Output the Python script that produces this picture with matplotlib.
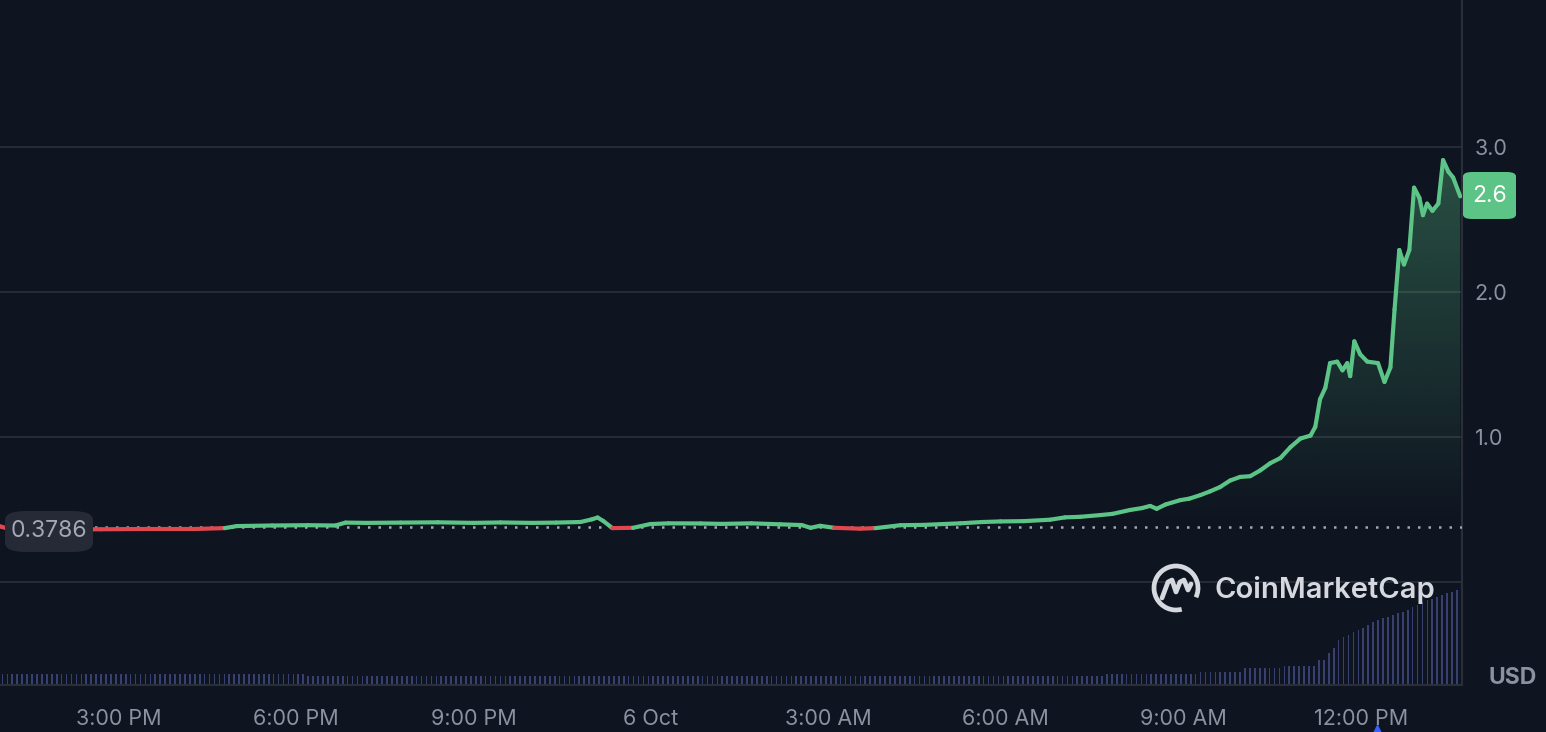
import numpy as np
import matplotlib.pyplot as plt
from matplotlib.collections import LineCollection
from matplotlib.patches import FancyBboxPatch, Arc, Polygon
from matplotlib.transforms import blended_transform_factory

plt.rcParams['font.family'] = ['Inter', 'DejaVu Sans']

# --- data: hours since 1:00 PM, 5 Oct ---
hours = [0.00, 0.10, 0.50, 1.00, 1.70, 2.50, 3.30, 3.80, 4.00, 4.60, 5.20, 5.67,
         5.84, 6.20, 6.77, 7.40, 8.00, 8.46, 9.00, 9.40, 9.81, 10.00, 10.10, 10.20,
         10.35, 10.70, 10.99, 11.30, 11.84, 12.20, 12.70, 13.19, 13.55, 13.70, 13.86,
         14.10, 14.54, 14.80, 15.22, 15.60, 16.23, 16.60, 16.91, 17.30, 17.75, 18.00,
         18.26, 18.60, 18.80, 19.10, 19.30, 19.44, 19.55, 19.70, 19.95, 20.10, 20.29,
         20.45, 20.62, 20.79, 20.96, 21.13, 21.30, 21.47, 21.64, 21.81, 21.98, 22.15,
         22.23, 22.31, 22.40, 22.48, 22.60, 22.69, 22.77, 22.82, 22.89, 22.99, 23.11,
         23.29, 23.40, 23.50, 23.57, 23.65, 23.73, 23.82, 23.90, 23.99, 24.05, 24.12,
         24.21, 24.31, 24.39, 24.48, 24.56, 24.68]
price = [0.385, 0.372, 0.360, 0.362, 0.364, 0.366, 0.366, 0.372, 0.386, 0.390, 0.392, 0.390,
         0.410, 0.408, 0.410, 0.412, 0.408, 0.411, 0.408, 0.410, 0.414, 0.432, 0.445, 0.420,
         0.372, 0.374, 0.400, 0.405, 0.404, 0.401, 0.405, 0.398, 0.393, 0.374, 0.388,
         0.374, 0.368, 0.372, 0.392, 0.394, 0.405, 0.414, 0.418, 0.420, 0.430, 0.446,
         0.450, 0.462, 0.470, 0.497, 0.510, 0.525, 0.505, 0.535, 0.565, 0.575, 0.600,
         0.625, 0.655, 0.700, 0.725, 0.730, 0.770, 0.820, 0.855, 0.930, 0.990, 1.010,
         1.070, 1.260, 1.340, 1.510, 1.520, 1.460, 1.510, 1.420, 1.660, 1.570, 1.520,
         1.510, 1.380, 1.480, 1.880, 2.290, 2.190, 2.290, 2.720, 2.650, 2.530, 2.610,
         2.560, 2.610, 2.910, 2.830, 2.790, 2.660]
open_price = 0.3786
last_label = "2.6"

# 5-minute volume bars (relative units)
volume = ([11] * 62 + [9] * 162 + [11] * 19 + [13] * 9 + [17] * 8 + [19] * 7 + [25] +
          [25, 32, 37, 45, 48, 50, 53, 55, 57, 60, 63, 65, 67, 68, 70, 72, 73, 75, 78,
           80, 83, 85, 86, 88, 90, 92, 93, 95, 97])
bar_step = 1 / 12

tick_hours = [2, 5, 8, 11, 14, 17, 20, 23]
tick_labels = ["3:00 PM", "6:00 PM", "9:00 PM", "6 Oct", "3:00 AM", "6:00 AM", "9:00 AM", "12:00 PM"]
y_ticks = [1, 2, 3]

# colours
bg = '#0e1420'
grid_c = '#2a2e39'
green = '#5cc486'
red = '#e0474f'
txt_c = '#8c91a0'

W, H = 1546, 732
fig = plt.figure(figsize=(W / 100, H / 100), dpi=100, facecolor=bg)
xlim = (0.0, 24.71)

# volume axes
vax = fig.add_axes([0, 47 / H, 1462 / W, 110 / H])
vax.set_facecolor('none')
bar_x = np.arange(len(volume)) * bar_step + bar_step / 2
vax.bar(bar_x, volume, width=bar_step * 0.34, color='#384070', linewidth=0)
vax.set_xlim(*xlim)
vax.set_ylim(0, 110)
for s in vax.spines.values():
    s.set_visible(False)
vax.set_yticks([])
vax.set_xticks(tick_hours)
vax.set_xticklabels(tick_labels)
vax.tick_params(axis='x', length=0, pad=17, labelsize=15.5, labelcolor=txt_c)

# main price axes
ax = fig.add_axes([0, 47 / H, 1462 / W, 685 / H])
ax.set_facecolor('none')
ax.set_xlim(*xlim)
ax.set_ylim(-0.71, 4.014)
for k in ['top', 'left']:
    ax.spines[k].set_visible(False)
ax.spines['right'].set_color(grid_c)
ax.spines['right'].set_linewidth(1.5)
ax.spines['bottom'].set_color(grid_c)
ax.spines['bottom'].set_linewidth(1.5)
ax.set_xticks([])
for gy in [0, 1, 2, 3]:
    ax.axhline(gy, color=grid_c, lw=1.3, zorder=1)
ax.yaxis.tick_right()
ax.set_yticks(y_ticks)
ax.set_yticklabels([f"{t:.1f}" for t in y_ticks])
ax.tick_params(axis='y', length=0, pad=9, labelsize=15.5, labelcolor=txt_c)

h = np.array(hours)
p = np.array(price)

# gradient fill under the line
grad = np.zeros((256, 1, 4))
grad[:, 0, :3] = np.array([0x5c, 0xc4, 0x86]) / 255
grad[:, 0, 3] = np.linspace(0.0, 0.36, 256)
im = ax.imshow(grad, extent=[h[0], h[-1], open_price, 3.0], origin='lower',
               aspect='auto', zorder=2)
clip = Polygon(list(zip(h, p)) + [(h[-1], open_price), (h[0], open_price)],
               closed=True, transform=ax.transData, facecolor='none', edgecolor='none')
ax.add_patch(clip)
im.set_clip_path(clip)

# baseline dotted line
ax.axhline(open_price, color='#a0a6b2', lw=1.8, linestyle=(0, (1, 3.2)), zorder=3)

# price line coloured by open price
pts = np.column_stack([h, p]).reshape(-1, 1, 2)
segs = np.concatenate([pts[:-1], pts[1:]], axis=1)
mid = (p[:-1] + p[1:]) / 2
cols = [green if m >= open_price else red for m in mid]
lc = LineCollection(segs, colors=cols, linewidths=3.0, capstyle='round', joinstyle='round', zorder=4)
ax.add_collection(lc)

# open price label box
fig.patches.append(FancyBboxPatch((5 / W, 1 - 552 / H), 88 / W, 41 / H,
                                  boxstyle='round,pad=0,rounding_size=0.013',
                                  transform=fig.transFigure, facecolor='#262a36',
                                  edgecolor='none', zorder=5))
fig.text(49 / W, 1 - 531 / H, f"{open_price:.4f}", ha='center', va='center',
         color='#a3a8b5', fontsize=16.5, zorder=6)

# last price label box
fig.patches.append(FancyBboxPatch((1463 / W, 1 - 219 / H), 53 / W, 47 / H,
                                  boxstyle='round,pad=0,rounding_size=0.006',
                                  transform=fig.transFigure, facecolor=green,
                                  edgecolor='none', zorder=5))
fig.text(1490 / W, 1 - 196 / H, last_label, ha='center', va='center',
         color='white', fontsize=16.5, zorder=6)

fig.text(1513 / W, 1 - 678 / H, "USD", ha='center', va='center', color=txt_c,
         fontsize=16.5, fontweight='bold')

# CoinMarketCap watermark
lax = fig.add_axes([1150 / W, 1 - 617 / H, 290 / W, 54 / H])
lax.set_facecolor(bg)
lax.set_xlim(0, 290)
lax.set_ylim(-27, 27)
lax.axis('off')
lax.patch.set_visible(True)
logo_c = '#d6d8df'
lax.add_patch(Arc((26, 2), 44, 44, theta1=-25, theta2=285, color=logo_c, lw=3.4))
mx = [12, 18, 22, 26, 30, 34, 38, 41]
my = [-8, 8, 10, -2, 8, 10, 0, 6]
lax.plot(mx, my, color=logo_c, lw=3.4, solid_capstyle='round', solid_joinstyle='round')
lax.text(64, 0, "CoinMarketCap", ha='left', va='center', color=logo_c,
         fontsize=21, fontweight='semibold')

# small marker under 12:00 PM
tr = blended_transform_factory(ax.transData, fig.transFigure)
ax.plot([23.27], [1 - 731 / H], marker='^', markersize=8, color='#3861fb',
        transform=tr, clip_on=False)

fig.savefig('out.png', dpi=100, facecolor=bg)
